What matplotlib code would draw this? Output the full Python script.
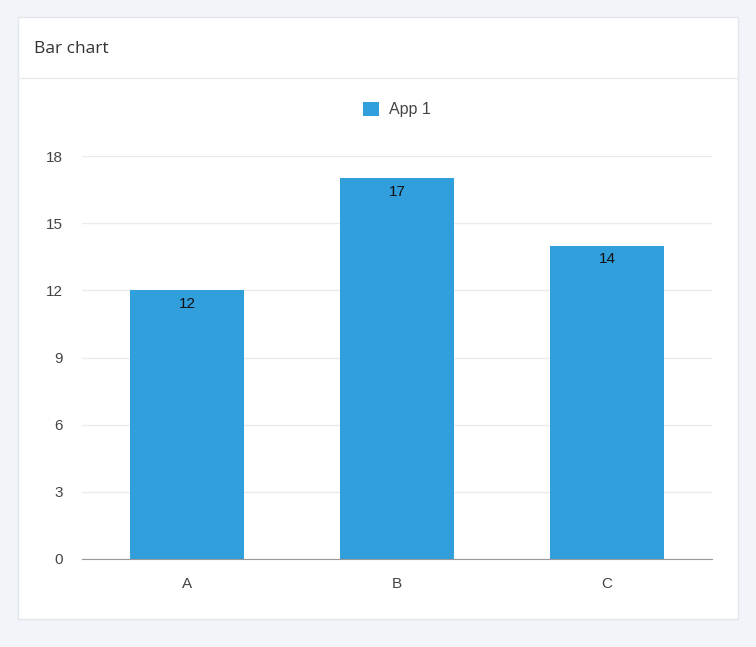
import matplotlib
matplotlib.use("Agg")
import matplotlib.pyplot as plt
from matplotlib.patches import Rectangle

plt.rcParams['font.family'] = ['Liberation Sans', 'DejaVu Sans']

categories = ["A", "B", "C"]
values = [12, 17, 14]
series_name = "App 1"
yticks = [0, 3, 6, 9, 12, 15, 18]

W, H = 756, 647
fig = plt.figure(figsize=(W/100, H/100), dpi=100)
fig.patch.set_facecolor("#f1f5f9")
# card
fig.patches.append(Rectangle((18/W, (H-619)/H), 720/W, 602/H, transform=fig.transFigure,
                             facecolor="white", edgecolor="#e2e6ea", lw=1, zorder=-5))
fig.lines.append(plt.Line2D([18/W, 738/W], [(H-78)/H]*2, transform=fig.transFigure,
                            color="#e8ebee", lw=1, zorder=-4))
fig.text(34/W, (H-49)/H, "Bar chart", fontsize=12.5, color="#333333", va="center", ha="left",
         family=['Open Sans', 'DejaVu Sans'])

ax = fig.add_axes([82/W, (H-559)/H, 630/W, 403/H])
ax.set_zorder(5)
ax.set_facecolor("none")
x = range(len(categories))
ax.bar(x, values, width=0.54, color="#319fdc", label=series_name, zorder=2)
for xi, v in zip(x, values):
    ax.text(xi, v - 0.28, str(v), ha="center", va="top", fontsize=11, color="#111111", zorder=3)
ax.set_xlim(-0.5, 2.5)
ax.set_ylim(0, 18)
ax.set_yticks(yticks)
ax.set_xticks(list(x))
ax.set_xticklabels(categories)
ax.grid(axis="y", color="#ebebeb", lw=1, zorder=0)
for s in ["top", "right", "left"]:
    ax.spines[s].set_visible(False)
ax.spines["bottom"].set_color("#999999")
ax.tick_params(axis="both", length=0, labelsize=11, colors="#444444")
ax.tick_params(axis="y", pad=14)
ax.tick_params(axis="x", pad=13)
leg = ax.legend(loc="lower center", bbox_to_anchor=(0.5, 1.06), frameon=False, fontsize=11.5,
                handlelength=1.0, handleheight=1.0, handletextpad=0.6)
for t in leg.get_texts():
    t.set_color("#444444")
fig.savefig("out.png", dpi=100, facecolor=fig.get_facecolor())
